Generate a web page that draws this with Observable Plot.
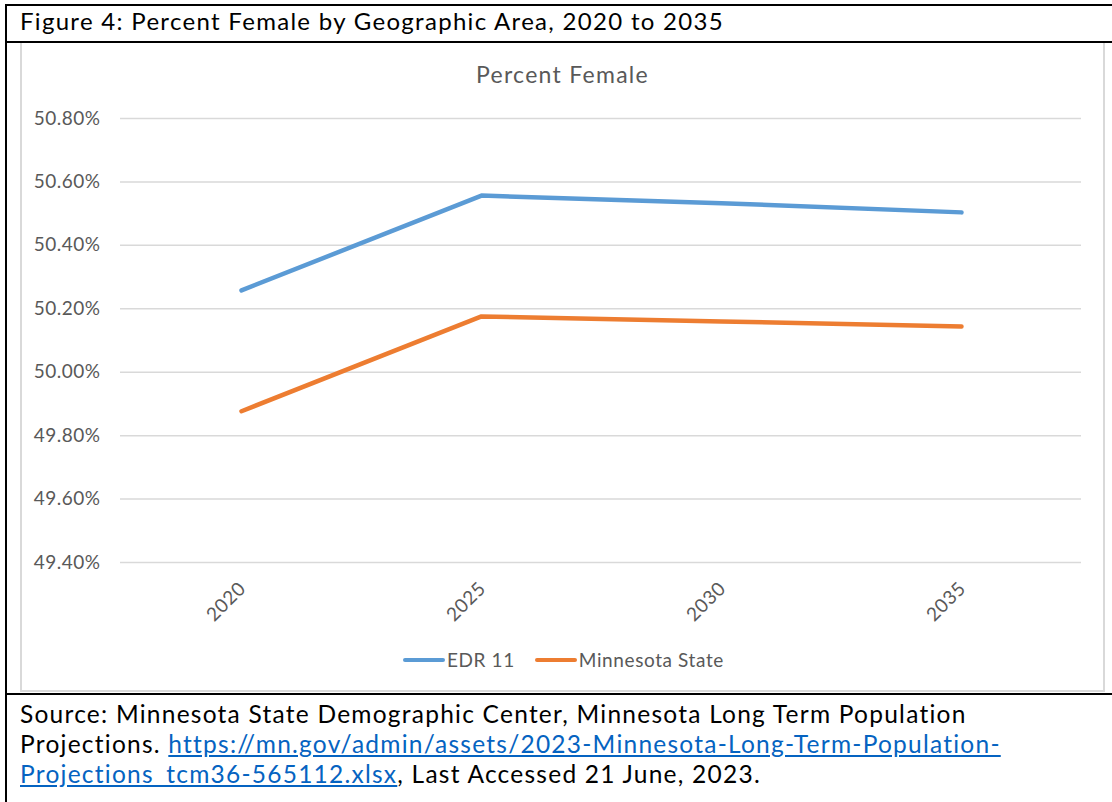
<!DOCTYPE html>
<html>
<head>
<meta charset="utf-8">
<script src="https://cdn.jsdelivr.net/npm/d3@7"></script>
<script src="https://cdn.jsdelivr.net/npm/@observablehq/plot@0.6"></script>
<style>
  html, body { margin: 0; padding: 0; background: #fff; }
  #page { position: relative; width: 1112px; height: 802px; overflow: hidden; font-family: Lato, "Open Sans", sans-serif; }
  .bl { position: absolute; background: #000; }
  #figtitle { position: absolute; left: 20px; top: 6px; font-size: 24px; color: #000; white-space: nowrap; }
  #frame { position: absolute; left: 20px; top: 43px; width: 1081px; height: 647px; border: 2px solid #d9d9d9; border-top: none; }
  #chart { position: absolute; left: 20px; top: 43px; }
  #ctitle { position: absolute; left: 476px; top: 60px; font-size: 23px; color: #595959; white-space: nowrap; }
  #legend { position: absolute; top: 648px; left: 403px; font-size: 19px; color: #595959; display: flex; align-items: center; white-space: nowrap; }
  .sw { display: inline-block; width: 42px; height: 4px; border-radius: 2px; margin-right: 2px; }
  #source { position: absolute; left: 20px; top: 699px; font-size: 24.5px; line-height: 30px; color: #000; white-space: nowrap; }
  #source a { color: #0563c1; text-decoration: underline; }
</style>
</head>
<body>
<div id="page">
  <div class="bl" style="left:5px; top:4px; width:1107px; height:2px;"></div>
  <div class="bl" style="left:5px; top:4px; width:2px; height:798px;"></div>
  <div class="bl" style="left:5px; top:41px; width:1107px; height:2px;"></div>
  <div class="bl" style="left:5px; top:693px; width:1107px; height:2px;"></div>
  <div id="figtitle"></div>
  <div id="frame"></div>
  <div id="chart"></div>
  <div id="ctitle"></div>
  <div id="legend"></div>
  <div id="source"></div>
</div>
<script>
const figureTitle = "Figure 4: Percent Female by Geographic Area, 2020 to 2035";
const chartTitle = "Percent Female";
const years = ["2020", "2025", "2030", "2035"];
const seriesNames = ["EDR 11", "Minnesota State"];
const seriesColors = ["#5b9bd5", "#ed7d31"];
const edr11 = [50.258, 50.557, 50.533, 50.504];
const minnesotaState = [49.877, 50.176, 50.160, 50.144];
const yTicks = [49.4, 49.6, 49.8, 50.0, 50.2, 50.4, 50.6, 50.8];
const sourceLine1 = "Source: Minnesota State Demographic Center, Minnesota Long Term Population";
const sourceLine2a = "Projections. ";
const sourceLink2 = "https://mn.gov/admin/assets/2023-Minnesota-Long-Term-Population-";
const sourceLink3 = "Projections_tcm36-565112.xlsx";
const sourceLine3b = ", Last Accessed 21 June, 2023.";

const rows = [];
[edr11, minnesotaState].forEach((vals, si) => {
  vals.forEach((v, i) => rows.push({series: seriesNames[si], year: years[i], value: v}));
});

// fit an element's text to a target width by adjusting letter-spacing
function fitWidth(el, target, nchars) {
  el.style.letterSpacing = "0px";
  const w = el.getBoundingClientRect().width;
  const n = nchars || el.textContent.length;
  el.style.letterSpacing = ((target - w) / n).toFixed(3) + "px";
}

const ft = document.getElementById("figtitle");
ft.textContent = figureTitle;
fitWidth(ft, 704);
const ct = document.getElementById("ctitle");
ct.textContent = chartTitle;
fitWidth(ct, 173);

const chart = Plot.plot({
  width: 1083,
  height: 649,
  marginLeft: 100,
  marginRight: 22,
  marginTop: 75,
  marginBottom: 130,
  style: {fontFamily: "Lato, 'Open Sans', sans-serif", fontSize: "19px", color: "#595959", background: "transparent", overflow: "visible", letterSpacing: "0.5px"},
  x: {type: "point", domain: years, padding: 0.5},
  y: {domain: [49.4, 50.8]},
  color: {domain: seriesNames, range: seriesColors},
  marks: [
    Plot.gridY(yTicks, {stroke: "#d9d9d9", strokeOpacity: 1, strokeWidth: 1.5}),
    Plot.axisY(yTicks, {label: null, tickSize: 0, tickPadding: 20, tickFormat: d => d.toFixed(2) + "%", fill: "#595959", fontSize: 19}),
    Plot.axisX({label: null, tickSize: 0, tickRotate: -45, tickPadding: 23, fill: "#595959", fontSize: 19, dx: 1}),
    Plot.line(rows, {x: "year", y: "value", z: "series", stroke: "series", strokeWidth: 4.5, strokeLinecap: "round", strokeLinejoin: "round"})
  ]
});
document.getElementById("chart").appendChild(chart);

const legend = document.getElementById("legend");
seriesNames.forEach((name, i) => {
  const item = document.createElement("span");
  item.style.display = "inline-flex";
  item.style.alignItems = "center";
  item.style.marginRight = i === 0 ? "20px" : "0";
  const sw = document.createElement("span");
  sw.className = "sw";
  sw.style.background = seriesColors[i];
  item.appendChild(sw);
  const t = document.createElement("span");
  t.textContent = name;
  t.style.letterSpacing = "0.6px";
  item.appendChild(t);
  legend.appendChild(item);
});

const src = document.getElementById("source");
const l1 = document.createElement("span");
l1.textContent = sourceLine1;
src.appendChild(l1);
const l1w = l1.getBoundingClientRect().width;
src.style.letterSpacing = ((947 - l1w) / sourceLine1.length).toFixed(3) + "px";
src.appendChild(document.createElement("br"));
src.appendChild(document.createTextNode(sourceLine2a));
const a1 = document.createElement("a"); a1.textContent = sourceLink2; src.appendChild(a1);
src.appendChild(document.createElement("br"));
const a2 = document.createElement("a"); a2.textContent = sourceLink3; src.appendChild(a2);
src.appendChild(document.createTextNode(sourceLine3b));
</script>
</body>
</html>
